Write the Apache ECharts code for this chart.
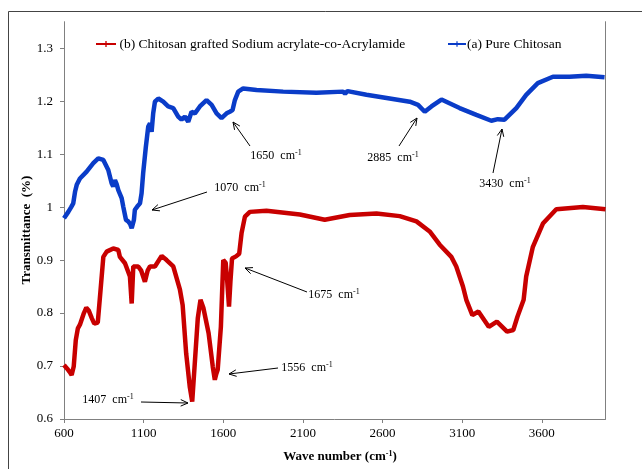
<!DOCTYPE html>
<html>
<head>
<meta charset="utf-8">
<title>FTIR spectra</title>
<script src="https://cdn.jsdelivr.net/npm/echarts@6/dist/echarts.min.js"></script>
<style>
  html, body { margin: 0; padding: 0; background: #fff; }
  #chart { width: 642px; height: 469px; }
</style>
</head>
<body>
<div id="chart"></div>
<script>
// Wave numbers (cm-1) and transmittance for pure chitosan
const pureWave = [600, 627, 645, 658, 670, 680, 700, 742, 784, 815, 847, 878, 899, 909, 920, 930, 941, 962, 972, 989, 1003, 1015, 1025, 1039, 1045, 1060, 1077, 1087, 1097, 1114, 1129, 1140, 1150, 1160, 1171, 1192, 1223, 1254, 1286, 1317, 1338, 1359, 1380, 1401, 1422, 1453, 1495, 1527, 1558, 1589, 1621, 1641, 1658, 1673, 1694, 1725, 1809, 1976, 2185, 2352, 2365, 2380, 2499, 2645, 2771, 2823, 2865, 2907, 2970, 3084, 3189, 3283, 3324, 3366, 3440, 3502, 3575, 3670, 3774, 3879, 3994];
const pureT = [0.979, 0.991, 1.000, 1.007, 1.030, 1.042, 1.054, 1.067, 1.083, 1.092, 1.089, 1.070, 1.045, 1.039, 1.051, 1.044, 1.032, 1.017, 1.001, 0.976, 0.973, 0.968, 0.960, 0.976, 0.995, 1.001, 1.007, 1.026, 1.064, 1.114, 1.152, 1.158, 1.142, 1.177, 1.199, 1.205, 1.199, 1.190, 1.187, 1.171, 1.165, 1.171, 1.161, 1.180, 1.177, 1.190, 1.202, 1.193, 1.177, 1.168, 1.177, 1.180, 1.183, 1.202, 1.218, 1.224, 1.221, 1.218, 1.216, 1.218, 1.214, 1.219, 1.212, 1.205, 1.199, 1.193, 1.180, 1.190, 1.203, 1.187, 1.174, 1.163, 1.166, 1.165, 1.187, 1.212, 1.234, 1.246, 1.246, 1.248, 1.245];

// Wave numbers (cm-1) and transmittance for the grafted copolymer
const graftWave = [600, 620, 635, 648, 661, 674, 687, 700, 712, 725, 740, 755, 775, 790, 802, 812, 826, 847, 868, 909, 941, 951, 983, 1014, 1025, 1035, 1066, 1085, 1108, 1125, 1140, 1171, 1213, 1244, 1286, 1328, 1345, 1367, 1390, 1405, 1420, 1440, 1457, 1475, 1508, 1534, 1547, 1556, 1565, 1585, 1600, 1615, 1625, 1636, 1645, 1655, 1680, 1700, 1715, 1736, 1767, 1871, 2081, 2237, 2394, 2562, 2708, 2813, 2896, 2959, 3032, 3063, 3105, 3126, 3164, 3202, 3267, 3318, 3382, 3421, 3447, 3486, 3502, 3544, 3607, 3691, 3858, 4000];
const graftT = [0.702, 0.695, 0.689, 0.683, 0.699, 0.749, 0.771, 0.778, 0.781, 0.800, 0.810, 0.805, 0.790, 0.780, 0.777, 0.782, 0.831, 0.906, 0.916, 0.922, 0.919, 0.906, 0.894, 0.869, 0.818, 0.888, 0.888, 0.880, 0.859, 0.880, 0.888, 0.888, 0.908, 0.900, 0.888, 0.844, 0.815, 0.724, 0.660, 0.633, 0.700, 0.790, 0.825, 0.810, 0.762, 0.699, 0.674, 0.685, 0.693, 0.774, 0.900, 0.895, 0.860, 0.812, 0.860, 0.903, 0.907, 0.912, 0.951, 0.982, 0.991, 0.993, 0.986, 0.976, 0.985, 0.988, 0.983, 0.973, 0.954, 0.929, 0.906, 0.888, 0.850, 0.825, 0.796, 0.803, 0.774, 0.784, 0.765, 0.768, 0.793, 0.825, 0.869, 0.925, 0.969, 0.996, 1.000, 0.996];

// Series names and tick values
const seriesNames = ['(b) Chitosan grafted Sodium acrylate-co-Acrylamide', '(a) Pure Chitosan'];
const xTicks = [600, 1100, 1600, 2100, 2600, 3100, 3600];
const yTicks = [0.6, 0.7, 0.8, 0.9, 1.0, 1.1, 1.2, 1.3];

// Peak annotations: label text, label centre, arrow tail and arrow head (pixels)
const peakNotes = [
  { wn: '1070', tx: 240, ty: 188, x1: 207, y1: 192, x2: 152, y2: 210 },
  { wn: '1650', tx: 276, ty: 156, x1: 250, y1: 146, x2: 233, y2: 122 },
  { wn: '2885', tx: 393, ty: 158, x1: 399, y1: 146, x2: 417, y2: 118 },
  { wn: '3430', tx: 505, ty: 184, x1: 493, y1: 173, x2: 502, y2: 129 },
  { wn: '1675', tx: 334, ty: 295, x1: 307, y1: 292, x2: 245, y2: 268 },
  { wn: '1556', tx: 307, ty: 368, x1: 278, y1: 368, x2: 229, y2: 374 },
  { wn: '1407', tx: 108, ty: 400, x1: 141, y1: 402, x2: 188, y2: 403 }
];

const FONT = '"Liberation Serif", "Times New Roman", serif';
const BLUE = '#0a3cc8';
const RED = '#c80000';

const zip = (xs, ys) => xs.map((x, i) => [x, ys[i]]);

const supRich = {
  b: { fontFamily: FONT, fontSize: 12, color: '#000', lineHeight: 14 },
  s: { fontFamily: FONT, fontSize: 8, color: '#000', verticalAlign: 'top', lineHeight: 8 }
};

// Arrow with an open V head
function arrow(n) {
  const ang = Math.atan2(n.y2 - n.y1, n.x2 - n.x1);
  const L = 8, spread = 0.42;
  const a1 = ang + Math.PI - spread, a2 = ang + Math.PI + spread;
  return [
    { type: 'line', silent: true,
      shape: { x1: n.x1, y1: n.y1, x2: n.x2, y2: n.y2 },
      style: { stroke: '#000', lineWidth: 1 } },
    { type: 'polyline', silent: true,
      shape: { points: [
        [n.x2 + L * Math.cos(a1), n.y2 + L * Math.sin(a1)],
        [n.x2, n.y2],
        [n.x2 + L * Math.cos(a2), n.y2 + L * Math.sin(a2)]
      ] },
      style: { stroke: '#000', lineWidth: 1, fill: null } }
  ];
}

const graphics = [
  { type: 'rect', silent: true, shape: { x: 8.5, y: 11.5, width: 700, height: 500 },
    style: { fill: null, stroke: '#444', lineWidth: 1 } },
  { type: 'text', silent: true, x: 27, y: 230, rotation: Math.PI / 2,
    style: { text: 'Transmittance  (%)', font: 'bold 13px ' + FONT, fill: '#000',
      align: 'center', verticalAlign: 'middle' } },
  { type: 'text', silent: true, x: 340, y: 457,
    style: { text: '{b|Wave number (cm}{s|-1}{b|)}', align: 'center', verticalAlign: 'middle',
      rich: {
        b: { fontFamily: FONT, fontWeight: 'bold', fontSize: 13, color: '#000', lineHeight: 15 },
        s: { fontFamily: FONT, fontWeight: 'bold', fontSize: 8, color: '#000', verticalAlign: 'top', lineHeight: 8 }
      } } }
];
peakNotes.forEach(n => {
  graphics.push({ type: 'text', silent: true, x: n.tx, y: n.ty,
    style: { text: '{b|' + n.wn + '  cm}{s|-1}', align: 'center', verticalAlign: 'middle', rich: supRich } });
  graphics.push(...arrow(n));
});

const legendIcon = 'path://M0,3 L30,3 L30,6 L0,6 Z M14,0 L16,0 L16,9 L14,9 Z';

const chart = echarts.init(document.getElementById('chart'), null, { renderer: 'canvas' });
chart.setOption({
  animation: false,
  backgroundColor: '#fff',
  textStyle: { fontFamily: FONT },
  grid: { left: 64, right: 36.5, top: 21.7, bottom: 50, containLabel: false },
  legend: [
    { data: [seriesNames[0]], left: 91, top: 32, itemWidth: 25, itemHeight: 6, icon: legendIcon,
      itemStyle: { color: RED }, textStyle: { fontFamily: FONT, fontSize: 13.5, color: '#000', padding: [0, 0, 0, -4] } },
    { data: [seriesNames[1]], left: 443, top: 32, itemWidth: 18, itemHeight: 6, icon: legendIcon,
      itemStyle: { color: BLUE }, textStyle: { fontFamily: FONT, fontSize: 13.5, color: '#000', padding: [0, 0, 0, -4] } }
  ],
  xAxis: {
    type: 'value', min: 600, max: 4000, interval: 500,
    axisLine: { show: true, lineStyle: { color: '#808080', width: 1 } },
    axisTick: { show: true, length: 4, customValues: xTicks, lineStyle: { color: '#808080' } },
    axisLabel: { customValues: xTicks, margin: 8, fontFamily: FONT, fontSize: 13, color: '#000',
      formatter: v => String(Math.round(v)) },
    splitLine: { show: false }
  },
  yAxis: [
    {
      type: 'value', min: 0.6, max: 1.35, interval: 0.1,
      axisLine: { show: true, lineStyle: { color: '#808080', width: 1 } },
      axisTick: { show: true, length: 4, customValues: yTicks, lineStyle: { color: '#808080' } },
      axisLabel: { customValues: yTicks, margin: 11, fontFamily: FONT, fontSize: 13, color: '#000',
        formatter: v => String(+v.toFixed(1)) },
      splitLine: { show: false }
    },
    {
      type: 'value', position: 'right', min: 0.6, max: 1.35,
      axisLine: { show: true, lineStyle: { color: '#808080', width: 1 } },
      axisTick: { show: false }, axisLabel: { show: false }, splitLine: { show: false }
    }
  ],
  series: [
    { name: seriesNames[0], type: 'line', data: zip(graftWave, graftT), showSymbol: false,
      color: RED, lineStyle: { color: RED, width: 4.5 }, z: 3 },
    { name: seriesNames[1], type: 'line', data: zip(pureWave, pureT), showSymbol: false,
      color: BLUE, lineStyle: { color: BLUE, width: 4.5 }, z: 3 }
  ],
  graphic: graphics
});
</script>
</body>
</html>
